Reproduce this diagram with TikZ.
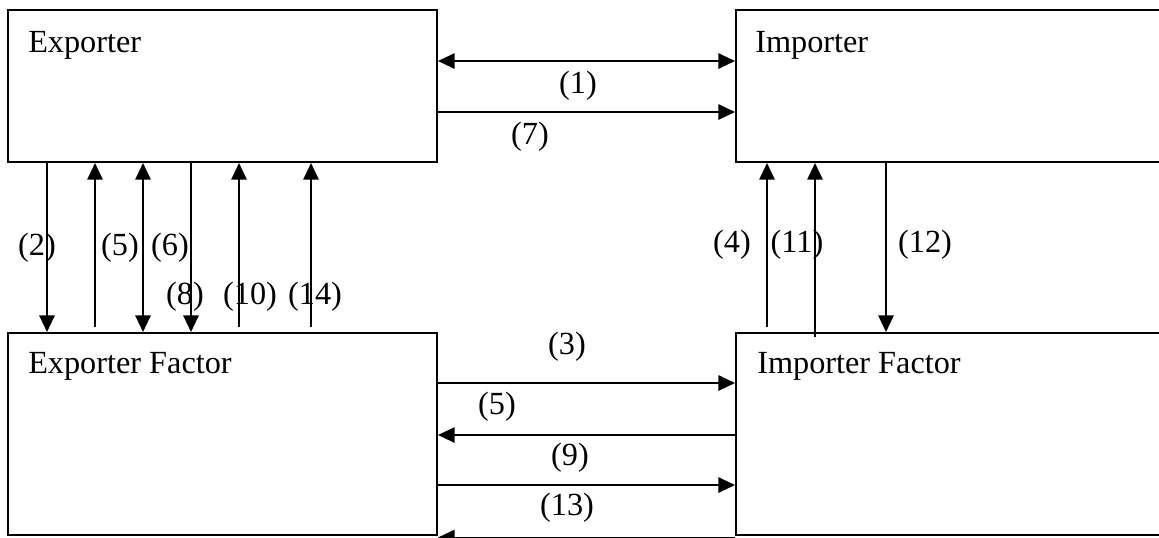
\documentclass[tikz,border=0pt]{standalone}
\usepackage{fontspec}
\setmainfont{Liberation Serif}
\usetikzlibrary{arrows.meta}
\begin{document}
\begin{tikzpicture}[x=0.75pt,y=-0.75pt,
  box/.style={draw,line width=1.5pt,rectangle,inner sep=0pt},
  arr/.style={line width=1.5pt,-{Triangle[length=12.5pt,width=11.5pt]}},
  darr/.style={line width=1.5pt,{Triangle[length=12.5pt,width=11.5pt]}-{Triangle[length=12.5pt,width=11.5pt]}},
  lbl/.style={inner sep=0pt,font=\fontsize{24.2}{28}\selectfont},
  ttl/.style={inner sep=0pt,anchor=base west,font=\fontsize{24.2}{28}\selectfont}]
\useasboundingbox (0,0) rectangle (1159,537);
\clip (0,0) rectangle (1159,537);
% boxes
\node[box,minimum width=429*0.75pt,minimum height=152*0.75pt] (exp) at (222.5,86) {};
\node[box,minimum width=434*0.75pt,minimum height=152*0.75pt] (imp) at (953,86) {};
\node[box,minimum width=429*0.75pt,minimum height=202*0.75pt] (ef) at (222.5,434) {};
\node[box,minimum width=434*0.75pt,minimum height=202*0.75pt] (if) at (953,434) {};
% titles
\node[ttl] (texp) at (28,52) {Exporter};
\node[ttl] (timp) at (755,52) {Importer};
\node[ttl] (tef) at (28,373) {Exporter Factor};
\node[ttl] (tif) at (757,373) {Importer Factor};
% top horizontal
\draw[darr] (exp.east |- 0,61) -- (imp.west |- 0,61);
\draw[arr] (exp.east |- 0,112) -- (imp.west |- 0,112);
\node[lbl] (l1) at (578,86) {(1)};
\node[lbl] (l7) at (530,137) {(7)};
% bottom horizontal
\draw[arr] (ef.east |- 0,383) -- (if.west |- 0,383);
\draw[arr] (if.west |- 0,435) -- (ef.east |- 0,435);
\draw[arr] (ef.east |- 0,485) -- (if.west |- 0,485);
\draw[arr] (if.west |- 0,537.5) -- (ef.east |- 0,537.5);
\node[lbl] (l3) at (567,347) {(3)};
\node[lbl] (l5b) at (497,407) {(5)};
\node[lbl] (l9) at (570,458) {(9)};
\node[lbl] (l13) at (567,508) {(13)};
% left verticals
\draw[arr] (exp.south -| 47,0) -- (ef.north -| 47,0);
\draw[arr,shorten <=3.75pt] (ef.north -| 95,0) -- (exp.south -| 95,0);
\draw[darr] (exp.south -| 143,0) -- (ef.north -| 143,0);
\draw[arr] (exp.south -| 191,0) -- (ef.north -| 191,0);
\draw[arr,shorten <=3.75pt] (ef.north -| 239,0) -- (exp.south -| 239,0);
\draw[arr,shorten <=3.75pt] (ef.north -| 311,0) -- (exp.south -| 311,0);
\node[lbl] (l2) at (37,248) {(2)};
\node[lbl] (l5) at (120,248) {(5)};
\node[lbl] (l6) at (170,248) {(6)};
\node[lbl] (l8) at (185,297) {(8)};
\node[lbl] (l10) at (250,297) {(10)};
\node[lbl] (l14) at (315,297) {(14)};
% right verticals
\draw[arr,shorten <=3.75pt] (if.north -| 767,0) -- (imp.south -| 767,0);
\draw[arr,shorten <=-3.75pt] (if.north -| 815,0) -- (imp.south -| 815,0);
\draw[arr] (imp.south -| 886,0) -- (if.north -| 886,0);
\node[lbl] (l4) at (732,245) {(4)};
\node[lbl] (l11) at (797,245) {(11)};
\node[lbl] (l12) at (925,245) {(12)};
\end{tikzpicture}
\end{document}
